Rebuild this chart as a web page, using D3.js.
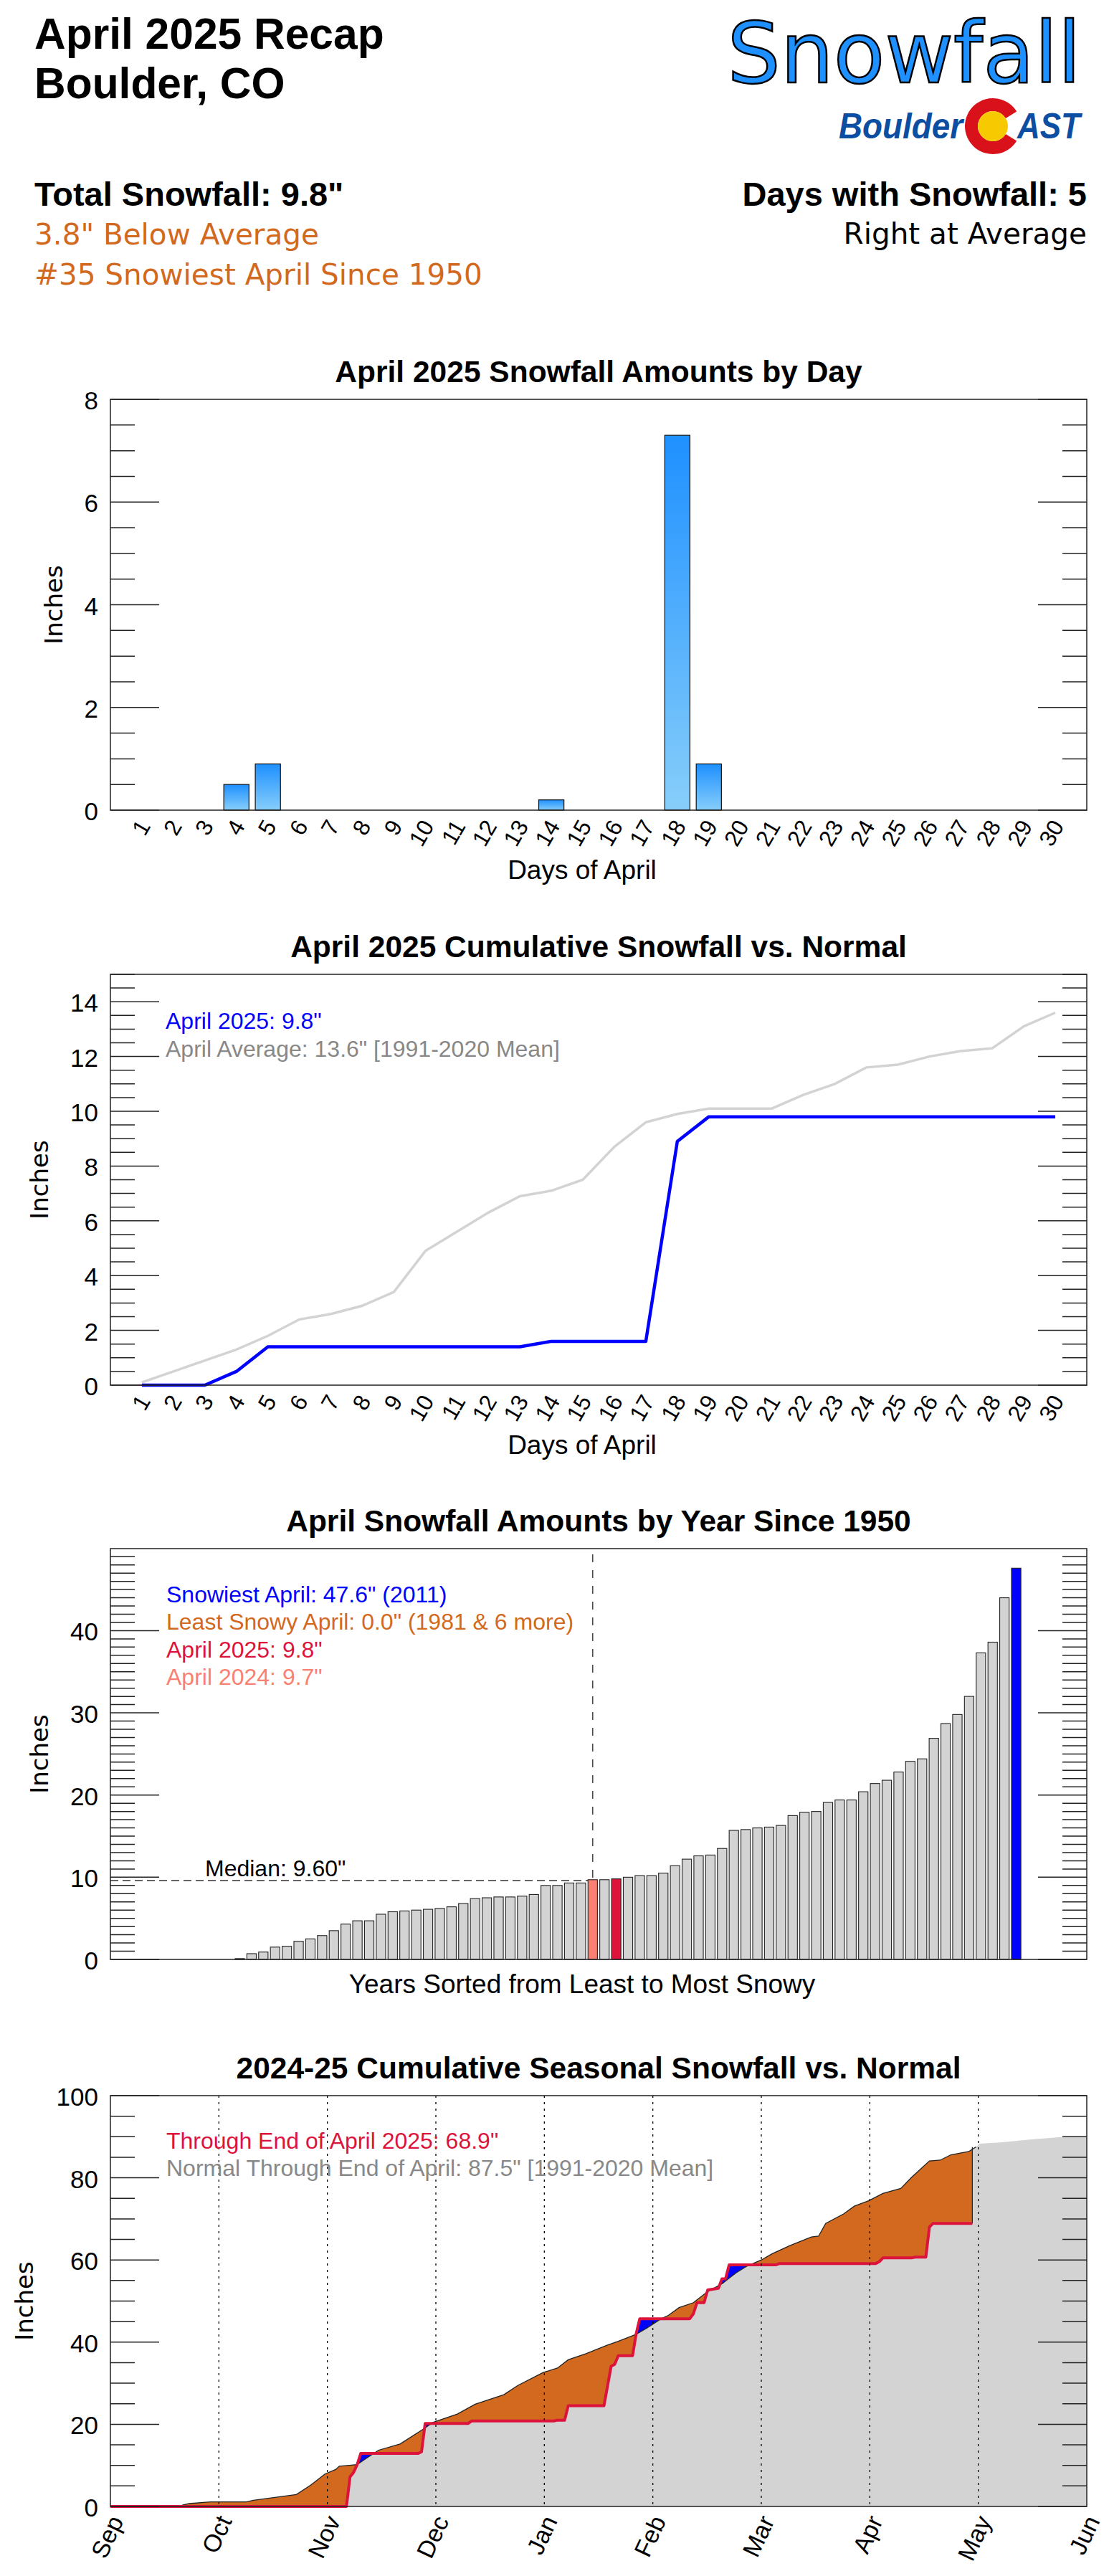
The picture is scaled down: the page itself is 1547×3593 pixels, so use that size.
<!DOCTYPE html>
<html>
<head>
<meta charset="utf-8">
<script src="https://cdn.jsdelivr.net/npm/d3@7"></script>
<style>
  body { margin: 0; background: #fff; }
  text { font-family: "Liberation Sans", Arial, Helvetica, sans-serif; }
  .dv { font-family: "DejaVu Sans", Verdana, sans-serif; }
</style>
</head>
<body>
<script>
// data
const aprilDays = [1,2,3,4,5,6,7,8,9,10,11,12,13,14,15,16,17,18,19,20,21,22,23,24,25,26,27,28,29,30];
const dailySnow = [0,0,0,0.5,0.9,0,0,0,0,0,0,0,0,0.2,0,0,0,7.3,0.9,0,0,0,0,0,0,0,0,0,0,0];
const cum2025 = [0,0,0,0.5,1.4,1.4,1.4,1.4,1.4,1.4,1.4,1.4,1.4,1.6,1.6,1.6,1.6,8.9,9.8,9.8,9.8,9.8,9.8,9.8,9.8,9.8,9.8,9.8,9.8,9.8];
const cumNormal = [0.1,0.5,0.9,1.3,1.8,2.4,2.6,2.9,3.4,4.9,5.6,6.3,6.9,7.1,7.5,8.7,9.6,9.9,10.1,10.1,10.1,10.6,11.0,11.6,11.7,12.0,12.2,12.3,13.1,13.6];

// April totals since 1950, sorted least to most snowy
const aprilSorted = [0,0,0,0,0,0,0,0.1,0.7,0.9,1.5,1.6,2.2,2.5,2.9,3.5,4.3,4.7,4.7,5.5,5.8,5.9,6.0,6.1,6.2,6.4,6.8,7.4,7.5,7.6,7.6,7.7,7.9,9.0,9.0,9.3,9.3,9.7,9.7,9.8,10.0,10.2,10.2,10.5,11.4,12.2,12.6,12.7,13.5,15.7,15.8,16.0,16.1,16.3,17.5,17.9,18.0,19.1,19.4,19.4,20.4,21.4,21.8,22.8,24.1,24.4,26.9,28.7,29.8,32.0,37.3,38.6,44.0,47.6];
const idxSnowiest = 73, idx2024 = 37, idx2025 = 39;
const aprilMedian = 9.6;

// season: days since Sep 1
const monthNames = ["Sep","Oct","Nov","Dec","Jan","Feb","Mar","Apr","May","Jun"];
const normalDay = [0,20,22,28,38,40,46,52,56,60,63,64,69,71,75,81,88,90,97,102,110,114,121,125,128,133,139,142,147,150,154,156,159,163,167,171,175,178,182,185,190,196,198,200,205,208,212,216,221,224,229,232,235,240,242,243,249,257,266,273];
const normalVal = [0.1,0.3,0.7,1.1,1.1,1.5,2.2,2.9,5.2,7.9,9.0,9.8,10.2,11.4,13.7,15.2,19.1,20.4,22.5,24.9,27.2,29.5,32.6,33.7,35.7,37.2,39.3,40.2,41.9,43.4,45.7,46.5,48.4,49.6,52.3,54.2,56.9,58.5,60.0,61.5,63.5,65.6,65.8,68.9,71.2,73.1,74.4,76.2,77.4,80.1,84.1,84.3,85.6,86.4,87.5,88.3,88.6,89.3,89.9,90.0];
const actualDay = [0,66,67,68,69,70,86,87,88,100,101,124,125,127,128,138,140,141,142,146,147,148,162,163,164,166,167,170,171,172,173,186,187,211,214,215,216,224,225,228,229,230,241];
const actualVal = [0,0,7.2,8.3,10.2,12.9,12.9,13.3,20.2,20.2,20.8,20.8,21.0,21.0,24.5,24.5,34.1,34.6,36.7,36.7,42.0,45.7,45.7,46.9,49.6,49.6,52.7,53.1,55.4,55.4,58.8,58.8,59.1,59.1,59.1,59.6,60.5,60.5,60.7,60.7,68.0,68.9,68.9];

// layout
const W = 1547, H = 3593;
const L = 154, R = 1516, PH = 573;
const tops = [557, 1359, 2160, 2923];

let svg = d3.select("body").append("svg")
  .attr("width", W)
  .attr("height", H);
let defs = svg.append("defs");

let grad = defs.append("linearGradient")
  .attr("id", "barGrad")
  .attr("x1", 0).attr("y1", 0).attr("x2", 0).attr("y2", 1);
grad.append("stop").attr("offset", "0%").attr("stop-color", "#1E90FF");
grad.append("stop").attr("offset", "100%").attr("stop-color", "#87CEFA");

// header
function hText(x, y, txt, size, opts) {
  opts = opts || {};
  let t = svg.append("text")
    .attr("x", x).attr("y", y)
    .style("font-size", size + "px")
    .attr("fill", opts.fill || "#000")
    .attr("text-anchor", opts.anchor || "start")
    .text(txt);
  if (opts.bold) t.style("font-weight", "bold");
  if (opts.dv) t.attr("class", "dv");
  return t;
}
hText(48, 68, "April 2025 Recap", 60.5, {bold: true});
hText(48, 137, "Boulder, CO", 60.5, {bold: true});
hText(48, 287, "Total Snowfall: 9.8\"", 47, {bold: true});
hText(48, 341, "3.8\" Below Average", 40.5, {dv: true, fill: "#D2691E"});
hText(48, 397, "#35 Snowiest April Since 1950", 40.5, {dv: true, fill: "#D2691E"});
hText(1516, 287, "Days with Snowfall: 5", 47, {bold: true, anchor: "end"});
hText(1516, 340, "Right at Average", 40.5, {dv: true, anchor: "end"});
hText(1508, 115, "Snowfall", 117, {dv: true, anchor: "end", fill: "#1E90FF"})
  .attr("stroke", "#000").attr("stroke-width", 2.5);

// logo
hText(1170, 193, "Boulder", 50, {bold: true, fill: "#0B4EA2"})
  .style("font-style", "italic")
  .attr("textLength", 173).attr("lengthAdjust", "spacingAndGlyphs");
hText(1419, 193, "AST", 50, {bold: true, fill: "#0B4EA2"})
  .style("font-style", "italic")
  .attr("textLength", 88).attr("lengthAdjust", "spacingAndGlyphs");
let logo = svg.append("g").attr("transform", "translate(1385,176)");
logo.append("path")
  .attr("d", d3.arc()({innerRadius: 21, outerRadius: 39, startAngle: Math.PI / 2 + 0.55, endAngle: Math.PI * 2.5 - 0.55}))
  .attr("fill", "#D8111B");
logo.append("circle").attr("r", 21).attr("fill", "#F7C900");

/**
 * Draw title and y label for one panel, return its scale.
 */
function panel(top, yMax, major, minor, title, inchesX) {
  let y = d3.scaleLinear().domain([0, yMax]).range([top + PH, top]);
  let g = svg.append("g");
  svg.append("text")
    .attr("x", (L + R) / 2).attr("y", top - 24)
    .attr("text-anchor", "middle")
    .style("font-size", "42.5px").style("font-weight", "bold")
    .text(title);
  svg.append("text")
    .attr("class", "dv")
    .attr("transform", "translate(" + inchesX + "," + (top + PH / 2) + ") rotate(-90)")
    .attr("text-anchor", "middle")
    .attr("dominant-baseline", "central")
    .style("font-size", "34px")
    .text("Inches");
  return {y: y, g: g, top: top, yMax: yMax, major: major, minor: minor};
}

/**
 * Ticks on both sides, labels and the box.
 */
function finishPanel(p) {
  let fg = svg.append("g");
  let y = p.y;
  let n = Math.floor(p.yMax / p.minor + 1e-6);
  for (let i = 0; i <= n; i++) {
    let v = i * p.minor;
    let isMajor = Math.abs(v / p.major - Math.round(v / p.major)) < 1e-6;
    let len = isMajor ? 68 : 34;
    fg.append("line").attr("x1", L).attr("x2", L + len).attr("y1", y(v)).attr("y2", y(v))
      .attr("stroke", "#222").attr("stroke-width", 1.5);
    fg.append("line").attr("x1", R - len).attr("x2", R).attr("y1", y(v)).attr("y2", y(v))
      .attr("stroke", "#222").attr("stroke-width", 1.5);
    if (isMajor) {
      fg.append("text")
        .attr("x", 137).attr("y", y(v) + 14)
        .attr("text-anchor", "end")
        .style("font-size", "35px")
        .text(d3.format("d")(v));
    }
  }
  fg.append("rect")
    .attr("x", L).attr("y", p.top).attr("width", R - L).attr("height", PH)
    .attr("fill", "none").attr("stroke", "#222").attr("stroke-width", 1.5);
}

function dayLabels(x, p) {
  svg.append("g").selectAll("text").data(aprilDays).join("text")
    .attr("transform", d => "translate(" + (x(d) + 13) + "," + (p.top + PH + 22) + ") rotate(-60)")
    .attr("text-anchor", "end")
    .style("font-size", "32px")
    .text(d => d);
  svg.append("text")
    .attr("x", 812).attr("y", p.top + PH + 96)
    .attr("text-anchor", "middle")
    .style("font-size", "37px")
    .text("Days of April");
}

// ---- chart 1: daily amounts
let p1 = panel(tops[0], 8, 2, 0.5, "April 2025 Snowfall Amounts by Day", 75);
let xDay = d3.scaleLinear().domain([0, 31]).range([L, R]);
let barsDaily = aprilDays.map((d, i) => ({day: d, v: dailySnow[i]})).filter(d => d.v > 0);
p1.g.selectAll("rect").data(barsDaily).join("rect")
  .attr("x", d => xDay(d.day - 0.4))
  .attr("width", xDay(0.8) - xDay(0))
  .attr("y", d => p1.y(d.v))
  .attr("height", d => p1.y(0) - p1.y(d.v))
  .attr("fill", "url(#barGrad)")
  .attr("stroke", "#111").attr("stroke-width", 1.2);
finishPanel(p1);
dayLabels(xDay, p1);

// ---- chart 2: cumulative April
let p2 = panel(tops[1], 15, 2, 0.5, "April 2025 Cumulative Snowfall vs. Normal", 55);
let line2 = d3.line().x((d, i) => xDay(aprilDays[i])).y(d => p2.y(d));
p2.g.append("path").attr("d", line2(cumNormal))
  .attr("fill", "none").attr("stroke", "#D3D3D3").attr("stroke-width", 3.5);
p2.g.append("path").attr("d", line2(cum2025))
  .attr("fill", "none").attr("stroke", "#0000FF").attr("stroke-width", 4.5)
  .attr("stroke-linejoin", "round");
svg.append("text").attr("x", 231).attr("y", 1435).style("font-size", "32px")
  .attr("fill", "#0000FF").text("April 2025: 9.8\"");
svg.append("text").attr("x", 231).attr("y", 1474).style("font-size", "32px")
  .attr("fill", "#888888").text("April Average: 13.6\" [1991-2020 Mean]");
finishPanel(p2);
dayLabels(xDay, p2);

// ---- chart 3: April by year
let p3 = panel(tops[2], 49.98, 10, 1, "April Snowfall Amounts by Year Since 1950", 55);
let xYr = d3.scaleLinear().domain([-4, 79]).range([L, R]);
function barColor(i) {
  if (i === idxSnowiest) return "#0000FF";
  if (i === idx2025) return "#DC143C";
  if (i === idx2024) return "#FA8072";
  return "#D3D3D3";
}
p3.g.selectAll("rect").data(aprilSorted.map((v, i) => ({i: i, v: v})).filter(d => d.v > 0)).join("rect")
  .attr("x", d => xYr(d.i - 0.4))
  .attr("width", xYr(0.8) - xYr(0))
  .attr("y", d => p3.y(d.v))
  .attr("height", d => p3.y(0) - p3.y(d.v))
  .attr("fill", d => barColor(d.i))
  .attr("stroke", "#222").attr("stroke-width", 1.1);
let medIdx = aprilSorted.length / 2;
p3.g.append("line")
  .attr("x1", L).attr("x2", xYr(medIdx - 0.4))
  .attr("y1", p3.y(aprilMedian)).attr("y2", p3.y(aprilMedian))
  .attr("stroke", "#333").attr("stroke-width", 1.5).attr("stroke-dasharray", "11,6");
p3.g.append("line")
  .attr("x1", xYr(medIdx)).attr("x2", xYr(medIdx))
  .attr("y1", p3.top + 8).attr("y2", p3.y(aprilSorted[medIdx]))
  .attr("stroke", "#444").attr("stroke-width", 1.5).attr("stroke-dasharray", "11,11");
svg.append("text").attr("x", 286).attr("y", 2617).style("font-size", "32px")
  .text("Median: 9.60\"");
let leg3 = [
  ["Snowiest April: 47.6\" (2011)", "#0000FF"],
  ["Least Snowy April: 0.0\" (1981 & 6 more)", "#D2691E"],
  ["April 2025: 9.8\"", "#DC143C"],
  ["April 2024: 9.7\"", "#FA8072"]
];
svg.append("g").selectAll("text").data(leg3).join("text")
  .attr("x", 232).attr("y", (d, i) => 2235 + i * 38.3)
  .style("font-size", "32px")
  .attr("fill", d => d[1])
  .text(d => d[0]);
finishPanel(p3);
svg.append("text")
  .attr("x", 812).attr("y", 2780)
  .attr("text-anchor", "middle")
  .style("font-size", "37px")
  .text("Years Sorted from Least to Most Snowy");

// ---- chart 4: seasonal cumulative
let p4 = panel(tops[3], 100, 20, 5, "2024-25 Cumulative Seasonal Snowfall vs. Normal", 34);
let xS = d3.scaleLinear().domain([0, 273]).range([L, R]);
let normalPts = normalDay.map((d, i) => ({d: d, v: normalVal[i]}));
let actualPts = actualDay.map((d, i) => ({d: d, v: actualVal[i]}));
let lastDay = actualDay[actualDay.length - 1];

defs.append("clipPath").attr("id", "aboveActual").append("path")
  .attr("d", d3.area().x(d => xS(d.d)).y0(p4.top).y1(d => p4.y(d.v))(actualPts));
defs.append("clipPath").attr("id", "aboveNormal").append("path")
  .attr("d", d3.area().x(d => xS(d.d)).y0(p4.top).y1(d => p4.y(d.v))(normalPts));

let underArea = d3.area().x(d => xS(d.d)).y0(p4.y(0)).y1(d => p4.y(d.v));
p4.g.append("path").attr("d", underArea(normalPts)).attr("fill", "#D3D3D3");
p4.g.append("path").attr("d", underArea(normalPts)).attr("fill", "#D2691E")
  .attr("clip-path", "url(#aboveActual)");
p4.g.append("path").attr("d", underArea(actualPts)).attr("fill", "#0000FF")
  .attr("clip-path", "url(#aboveNormal)");

let lineS = d3.line().x(d => xS(d.d)).y(d => p4.y(d.v));
let normalToDate = normalPts.filter(d => d.d <= lastDay + 1);
p4.g.append("path").attr("d", lineS(normalToDate))
  .attr("fill", "none").attr("stroke", "#222").attr("stroke-width", 1.3);
p4.g.append("line")
  .attr("x1", xS(lastDay)).attr("x2", xS(lastDay))
  .attr("y1", p4.y(actualVal[actualVal.length - 1])).attr("y2", p4.y(normalVal[normalDay.indexOf(242)]))
  .attr("stroke", "#222").attr("stroke-width", 1.2);
p4.g.append("path").attr("d", lineS(actualPts))
  .attr("fill", "none").attr("stroke", "#DC143C").attr("stroke-width", 4)
  .attr("stroke-linejoin", "round");

// month grid + labels
let monthPos = monthNames.map((m, i) => ({m: m, d: i * 273 / (monthNames.length - 1)}));
p4.g.selectAll("line.grid").data(monthPos.slice(1, -1)).join("line")
  .attr("class", "grid")
  .attr("x1", d => xS(d.d)).attr("x2", d => xS(d.d))
  .attr("y1", p4.top).attr("y2", p4.top + PH)
  .attr("stroke", "#000").attr("stroke-width", 1.3).attr("stroke-dasharray", "3,6");
svg.append("g").selectAll("text").data(monthPos).join("text")
  .attr("transform", d => "translate(" + (xS(d.d) + 19) + "," + (p4.top + PH + 20) + ") rotate(-65)")
  .attr("text-anchor", "end")
  .style("font-size", "34px")
  .text(d => d.m);
svg.append("text").attr("x", 232).attr("y", 2997).style("font-size", "32px")
  .attr("fill", "#DC143C").text("Through End of April 2025: 68.9\"");
svg.append("text").attr("x", 232).attr("y", 3035).style("font-size", "32px")
  .attr("fill", "#888888").text("Normal Through End of April: 87.5\" [1991-2020 Mean]");
finishPanel(p4);
</script>
</body>
</html>
